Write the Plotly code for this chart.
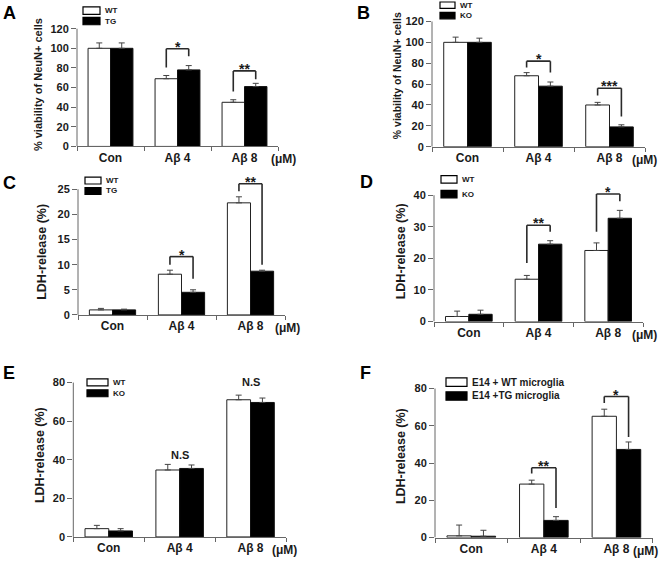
import plotly.graph_objects as go

W, H = 660, 565

categories = ["Con", "Aβ 4", "Aβ 8"]

# ---------------- Panel A ----------------
a_names = ["WT", "TG"]
a_s1 = [100, 69, 45]
a_s1_err = [5.5, 3.3, 2.6]
a_s2 = [100, 78, 61]
a_s2_err = [5.5, 4.4, 3.3]
a_sig_idx = [1, 2]
a_sig_left = [80.5, 56]
a_sig_top = [99.5, 77]
a_sig_right = [92, 68.5]
a_sig_label = ["*", "**"]
a_yticks = [0, 20, 40, 60, 80, 100, 120]

# ---------------- Panel B ----------------
b_names = ["WT", "KO"]
b_s1 = [100, 68, 40]
b_s1_err = [5, 3, 2.5]
b_s2 = [100, 58, 19]
b_s2_err = [4, 4, 2]
b_sig_idx = [1, 2]
b_sig_left = [76, 49]
b_sig_top = [82, 56]
b_sig_right = [71, 29]
b_sig_label = ["*", "***"]
b_yticks = [0, 20, 40, 60, 80, 100, 120]

# ---------------- Panel C ----------------
c_names = ["WT", "TG"]
c_s1 = [1.0, 8.1, 22.3]
c_s1_err = [0.3, 0.8, 1.2]
c_s2 = [1.0, 4.5, 8.7]
c_s2_err = [0.15, 0.5, 0.2]
c_sig_idx = [1, 2]
c_sig_left = [10.0, 24.6]
c_sig_top = [11.6, 26.1]
c_sig_right = [7.2, 10.0]
c_sig_label = ["*", "**"]
c_yticks = [0, 5, 10, 15, 20, 25]

# ---------------- Panel D ----------------
d_names = ["WT", "KO"]
d_s1 = [1.6, 13.4, 22.5]
d_s1_err = [1.7, 1.2, 2.4]
d_s2 = [2.3, 24.5, 32.7]
d_s2_err = [1.3, 1.1, 2.5]
d_sig_idx = [1, 2]
d_sig_left = [18.5, 28.4]
d_sig_top = [30.5, 40.4]
d_sig_right = [28.4, 38.1]
d_sig_label = ["**", "*"]
d_yticks = [0, 10, 20, 30, 40]

# ---------------- Panel E ----------------
e_names = ["WT", "KO"]
e_s1 = [4.3, 34.7, 71.1]
e_s1_err = [1.7, 2.9, 2.4]
e_s2 = [3.1, 35.5, 69.7]
e_s2_err = [1.2, 1.8, 2.3]
e_ns_idx = [1, 2]
e_ns_y = [42.4, 80.3]
e_ns_label = ["N.S", "N.S"]
e_yticks = [0, 20, 40, 60, 80]

# ---------------- Panel F ----------------
f_names = ["E14 + WT microglia", "E14 +TG microglia"]
f_s1 = [0.9, 28.7, 65.1]
f_s1_err = [5.8, 2.1, 3.8]
f_s2 = [0.7, 9.2, 47.3]
f_s2_err = [3.2, 2.0, 4.0]
f_sig_idx = [1, 2]
f_sig_left = [34.4, 72.2]
f_sig_top = [37.5, 75.7]
f_sig_right = [15.9, 54.0]
f_sig_label = ["**", "*"]
f_yticks = [0, 20, 40, 60, 80]

viability_title = "% viability of NeuN+ cells"
ldh_title = "LDH-release (%)"
unit_label = "(μM)"

# ---------------- layout geometry (pixels) ----------------
# x0, x1 : x-axis extent ; y0 : pixel of zero ; ytp : pixel of top tick
geom = {
    "A": dict(x0=77, x1=278, y0=148, ytp=29, title_xy=(38, 86), title_size=11,
              letter_xy=(3, 7), unit_dx=5,
              leg=dict(left=83, top=7, w=17, h=7.5, row=10.5, size=8)),
    "B": dict(x0=432, x1=645, y0=148.3, ytp=21.7, title_xy=(397, 77), title_size=10.5,
              letter_xy=(357, 7), unit_dx=-1,
              leg=dict(left=440, top=2, w=15, h=6.5, row=10.5, size=8)),
    "C": dict(x0=78, x1=285, y0=318.3, ytp=191.3, title_xy=(42.5, 255), title_size=12.5,
              letter_xy=(3, 178), unit_dx=2,
              leg=dict(left=85, top=179, w=16, h=7, row=10.5, size=8)),
    "D": dict(x0=434, x1=643, y0=325, ytp=197.3, title_xy=(401, 254), title_size=12.5,
              letter_xy=(360, 177), unit_dx=1,
              leg=dict(left=441, top=177.5, w=16, h=7.5, row=15, size=8)),
    "E": dict(x0=73.3, x1=286, y0=542.7, ytp=386.7, title_xy=(40, 460), title_size=12.5,
              letter_xy=(3, 370), unit_dx=-2,
              leg=dict(left=87, top=383, w=21, h=7, row=11, size=8)),
    "F": dict(x0=435, x1=652.7, y0=543.3, ytp=392.7, title_xy=(401, 461), title_size=12.5,
              letter_xy=(360, 370), unit_dx=-7,
              leg=dict(left=446, top=382, w=21, h=8.5, row=14, size=10)),
}

panels = [
    dict(key="A", names=a_names, s1=a_s1, e1=a_s1_err, s2=a_s2, e2=a_s2_err, yticks=a_yticks,
         title=viability_title,
         sig=list(zip(a_sig_idx, a_sig_left, a_sig_top, a_sig_right, a_sig_label)), ns=[]),
    dict(key="B", names=b_names, s1=b_s1, e1=b_s1_err, s2=b_s2, e2=b_s2_err, yticks=b_yticks,
         title=viability_title,
         sig=list(zip(b_sig_idx, b_sig_left, b_sig_top, b_sig_right, b_sig_label)), ns=[]),
    dict(key="C", names=c_names, s1=c_s1, e1=c_s1_err, s2=c_s2, e2=c_s2_err, yticks=c_yticks,
         title=ldh_title,
         sig=list(zip(c_sig_idx, c_sig_left, c_sig_top, c_sig_right, c_sig_label)), ns=[]),
    dict(key="D", names=d_names, s1=d_s1, e1=d_s1_err, s2=d_s2, e2=d_s2_err, yticks=d_yticks,
         title=ldh_title,
         sig=list(zip(d_sig_idx, d_sig_left, d_sig_top, d_sig_right, d_sig_label)), ns=[]),
    dict(key="E", names=e_names, s1=e_s1, e1=e_s1_err, s2=e_s2, e2=e_s2_err, yticks=e_yticks,
         title=ldh_title, sig=[], ns=list(zip(e_ns_idx, e_ns_y, e_ns_label))),
    dict(key="F", names=f_names, s1=f_s1, e1=f_s1_err, s2=f_s2, e2=f_s2_err, yticks=f_yticks,
         title=ldh_title,
         sig=list(zip(f_sig_idx, f_sig_left, f_sig_top, f_sig_right, f_sig_label)), ns=[]),
]

FONT = "Liberation Sans, Arial, sans-serif"
TXT = "#1a1a1a"
AXC = "#666666"
HEAD = 0.15          # head-room above the top tick
BAR_W = 0.335        # width of each bar in category units (bargap 0.33)
HALF = BAR_W / 2


def pxx(p):
    return p / W


def pxy(p):
    return 1 - p / H


fig = go.Figure()
shapes = []
annotations = []
layout_axes = {}

for k, P in enumerate(panels, start=1):
    g = geom[P["key"]]
    xa = "x" if k == 1 else f"x{k}"
    ya = "y" if k == 1 else f"y{k}"
    ytop = P["yticks"][-1]
    top_px = g["y0"] - (g["y0"] - g["ytp"]) * (1 + HEAD)

    err_style = dict(type="data", symmetric=False, thickness=1, width=3, color="#444444")
    fig.add_trace(go.Bar(
        x=categories, y=P["s1"], name=P["names"][0], xaxis=xa, yaxis=ya, showlegend=False,
        marker=dict(color="white", line=dict(color="#222222", width=1)),
        error_y=dict(array=P["e1"], arrayminus=[0] * len(P["e1"]), **err_style),
        hoverinfo="skip"))
    fig.add_trace(go.Bar(
        x=categories, y=P["s2"], name=P["names"][1], xaxis=xa, yaxis=ya, showlegend=False,
        marker=dict(color="black", line=dict(color="#111111", width=1)),
        error_y=dict(array=P["e2"], arrayminus=[0] * len(P["e2"]), **err_style),
        hoverinfo="skip"))

    xname = "xaxis" if k == 1 else f"xaxis{k}"
    yname = "yaxis" if k == 1 else f"yaxis{k}"
    layout_axes[xname] = dict(
        domain=[pxx(g["x0"]), pxx(g["x1"])], anchor=ya, type="category",
        range=[-0.5, 2.5], tickson="boundaries", ticks="outside", ticklen=4,
        tickcolor=AXC, showline=True, linecolor=AXC, linewidth=1,
        showgrid=False, zeroline=False, fixedrange=True,
        tickfont=dict(family=FONT, size=12, color=TXT, weight="bold"))
    layout_axes[yname] = dict(
        domain=[pxy(g["y0"]), pxy(top_px)], anchor=xa,
        range=[0, ytop * (1 + HEAD)], tickvals=P["yticks"], ticks="outside", ticklen=5,
        tickcolor=AXC, showline=False, showgrid=False, zeroline=False, fixedrange=True,
        tickfont=dict(family=FONT, size=11, color=TXT, weight="bold"))

    # y-axis line only up to the top tick
    shapes.append(dict(type="line", xref=f"{xa} domain", yref=ya, x0=0, x1=0, y0=0, y1=ytop,
                       line=dict(color=AXC, width=1)))

    # significance brackets
    for idx, yl, yt, yr, lab in P["sig"]:
        xl, xr = idx - HALF, idx + HALF
        for (sx0, sy0, sx1, sy1) in [(xl, yl, xl, yt), (xl, yt, xr, yt), (xr, yt, xr, yr)]:
            shapes.append(dict(type="line", xref=xa, yref=ya, x0=sx0, y0=sy0, x1=sx1, y1=sy1,
                               line=dict(color="#2a2a2a", width=1.6)))
        annotations.append(dict(xref=xa, yref=ya, x=idx, y=yt, text=lab, showarrow=False,
                                yanchor="bottom", xanchor="center", yshift=-6,
                                borderpad=0, borderwidth=0,
                                font=dict(family=FONT, size=14, color=TXT, weight="bold")))
    for idx, yv, lab in P["ns"]:
        annotations.append(dict(xref=xa, yref=ya, x=idx, y=yv, text=lab, showarrow=False,
                                yanchor="middle", xanchor="center", borderpad=0, borderwidth=0,
                                font=dict(family=FONT, size=11, color=TXT, weight="bold")))

    # unit label
    annotations.append(dict(xref=f"{xa} domain", yref=f"{ya} domain", x=1, y=0,
                            xshift=g["unit_dx"], yshift=-13, text=unit_label, showarrow=False,
                            xanchor="center", yanchor="middle", borderpad=0, borderwidth=0,
                            font=dict(family=FONT, size=12, color=TXT, weight="bold")))
    # y title
    tx, ty = g["title_xy"]
    annotations.append(dict(xref="paper", yref="paper", x=pxx(tx), y=pxy(ty), text=P["title"],
                            textangle=-90, showarrow=False, xanchor="center", yanchor="middle",
                            borderpad=0, borderwidth=0,
                            font=dict(family=FONT, size=g["title_size"], color=TXT, weight="bold")))
    # panel letter
    lx, ly = g["letter_xy"]
    annotations.append(dict(xref="paper", yref="paper", x=pxx(lx), y=pxy(ly - 3.5),
                            text=P["key"], showarrow=False, xanchor="left", yanchor="top",
                            borderpad=0, borderwidth=0,
                            font=dict(family=FONT, size=18, color="black", weight="bold")))
    # legend
    L = g["leg"]
    for r, (nm, fill) in enumerate(zip(P["names"], ["white", "black"])):
        top = L["top"] + r * L["row"]
        shapes.append(dict(type="rect", xref="paper", yref="paper",
                           x0=pxx(L["left"]), x1=pxx(L["left"] + L["w"]),
                           y0=pxy(top + L["h"]), y1=pxy(top),
                           fillcolor=fill, line=dict(color="black", width=1.2)))
        annotations.append(dict(xref="paper", yref="paper", x=pxx(L["left"] + L["w"] + 5),
                                y=pxy(top + L["h"] / 2), text=nm, showarrow=False,
                                xanchor="left", yanchor="middle", borderpad=0, borderwidth=0,
                                font=dict(family=FONT, size=L["size"], color=TXT, weight="bold")))

fig.update_layout(
    width=W, height=H, autosize=False,
    margin=dict(l=0, r=0, t=0, b=0, pad=0),
    paper_bgcolor="white", plot_bgcolor="rgba(0,0,0,0)",
    barmode="group", bargap=0.33, bargroupgap=0,
    showlegend=False,
    shapes=shapes, annotations=annotations,
    font=dict(family=FONT, color=TXT),
    **layout_axes,
)

fig.write_html(
    "out.html",
    config={"displayModeBar": False},
    post_script="document.body.style.margin='0';document.body.style.overflow='hidden';",
)
